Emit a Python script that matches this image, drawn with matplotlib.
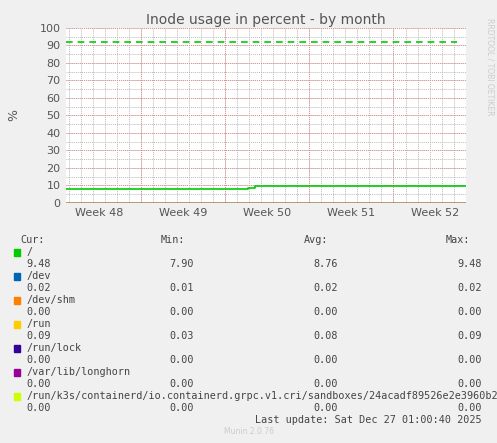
import matplotlib
matplotlib.use("Agg")
import matplotlib.pyplot as plt
import numpy as np

# time axis in days from the left edge of the graph
span = 33.3
week_starts = [6.25, 13.25, 20.25, 27.25]
week_labels = ["Week 48", "Week 49", "Week 50", "Week 51", "Week 52"]
week_label_pos = [2.75, 9.75, 16.75, 23.75, 30.75]

root_t = [0, 15.15, 15.15, 15.7, 15.7, 33.3]
root_v = [7.90, 7.90, 8.4, 8.4, 9.48, 9.48]
warn_level = 92

names = ["/", "/dev", "/dev/shm", "/run", "/run/lock", "/var/lib/longhorn",
         "/run/k3s/containerd/io.containerd.grpc.v1.cri/sandboxes/24acadf89526e2e3960b297"]
colours = ["#00cc00", "#0066b3", "#ff8000", "#ffcc00", "#330099", "#990099", "#ccff00"]
cur = ["9.48", "0.02", "0.00", "0.09", "0.00", "0.00", "0.00"]
mins = ["7.90", "0.01", "0.00", "0.03", "0.00", "0.00", "0.00"]
avgs = ["8.76", "0.02", "0.00", "0.08", "0.00", "0.00", "0.00"]
maxs = ["9.48", "0.02", "0.00", "0.09", "0.00", "0.00", "0.00"]
flat_vals = [0.02, 0.0, 0.09, 0.0, 0.0, 0.0]

bg = "#f0f0f0"
fig = plt.figure(figsize=(4.97, 4.43), dpi=100, facecolor=bg)
ax = fig.add_axes([0.133, 0.542, 0.805, 0.395], facecolor="white")

for d in np.arange(0, 34, 1.0):
    ax.axvline(d + 0.25, color="#bbbbbb", lw=0.7, ls=(0, (1, 1)), zorder=0)
for y in range(0, 101, 5):
    ax.axhline(y, color="#bbbbbb", lw=0.7, ls=(0, (1, 1)), zorder=0)
for y in range(0, 101, 10):
    ax.axhline(y, color="#e09090", lw=0.7, ls=(0, (1, 1)), zorder=0)
for w in week_starts:
    ax.axvline(w, color="#e09090", lw=0.7, ls=(0, (1, 1)), zorder=0)

for v, c in zip(flat_vals, colours[1:]):
    ax.plot([0, span], [v, v], color=c, lw=1)
ax.plot(root_t, root_v, color=colours[0], lw=1.2)
ax.plot([0, span - 0.8], [warn_level, warn_level], color=colours[0], lw=1.2, ls=(0, (4, 3)))

ax.set_xlim(0, span)
ax.set_ylim(0, 100)
ax.set_yticks(range(0, 101, 10))
ax.set_xticks(week_label_pos)
ax.set_xticklabels(week_labels)
ax.tick_params(labelsize=8, colors="#555555", length=0, pad=4)
for s in ax.spines.values():
    s.set_visible(False)
ax.set_ylabel("%", fontsize=9, color="#555555", labelpad=14)
ax.set_title("Inode usage in percent - by month", fontsize=10, color="#555555", pad=3)
fig.text(0.985, 0.96, "RRDTOOL / TOBI OETIKER", rotation=270, fontsize=5.5,
         color="#cccccc", va="top", ha="center")

# legend block
mono = "DejaVu Sans Mono"
fs = 7.3
tc = "#444444"
top = 1 - 240 / 443
dy = 12 / 443
fig.text(0.04, top, "Cur:", family=mono, fontsize=fs, color=tc, va="center")
fig.text(0.373, top, "Min:", family=mono, fontsize=fs, color=tc, va="center", ha="right")
fig.text(0.66, top, "Avg:", family=mono, fontsize=fs, color=tc, va="center", ha="right")
fig.text(0.946, top, "Max:", family=mono, fontsize=fs, color=tc, va="center", ha="right")
for i, n in enumerate(names):
    yn = top - dy * (1 + 2 * i)
    yv = yn - dy
    fig.patches.append(plt.Rectangle((0.028, yn - 0.008), 0.012, 0.014,
                                     transform=fig.transFigure, color=colours[i]))
    fig.text(0.053, yn, n, family=mono, fontsize=fs, color=tc, va="center")
    fig.text(0.054, yv, cur[i], family=mono, fontsize=fs, color=tc, va="center")
    fig.text(0.39, yv, mins[i], family=mono, fontsize=fs, color=tc, va="center", ha="right")
    fig.text(0.68, yv, avgs[i], family=mono, fontsize=fs, color=tc, va="center", ha="right")
    fig.text(0.97, yv, maxs[i], family=mono, fontsize=fs, color=tc, va="center", ha="right")
fig.text(0.97, 1 - 420 / 443, "Last update: Sat Dec 27 01:00:40 2025", family=mono,
         fontsize=fs, color=tc, va="center", ha="right")
fig.text(0.5, 1 - 432 / 443, "Munin 2.0.76", fontsize=5.5, color="#cccccc", ha="center", va="center")

fig.savefig("out.png", dpi=100, facecolor=bg)
